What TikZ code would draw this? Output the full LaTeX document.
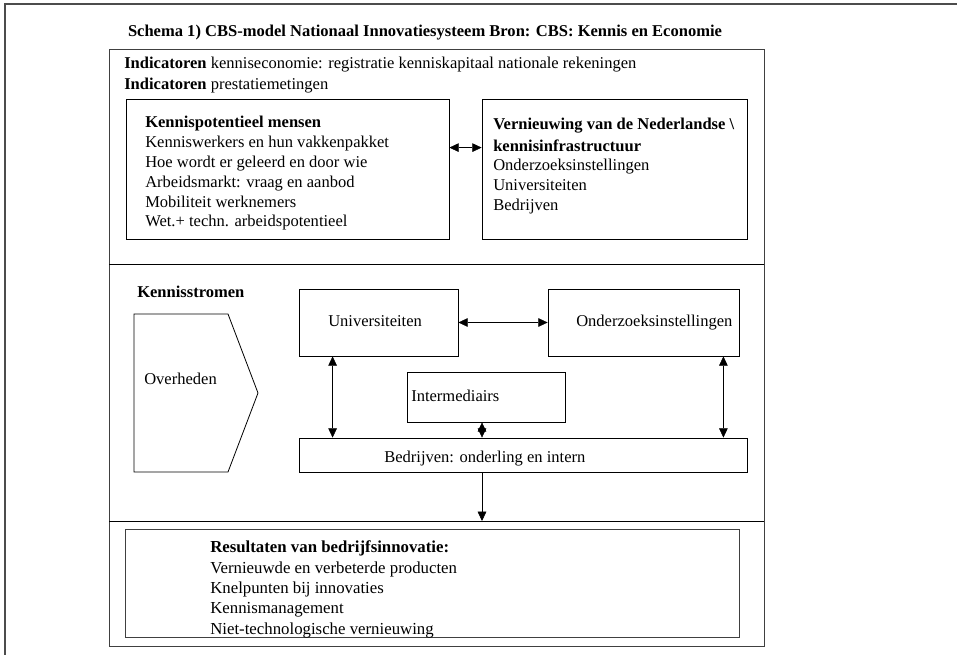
\documentclass[tikz,border=0pt]{standalone}
\usepackage{fontspec}
\setmainfont{Liberation Serif}
\usetikzlibrary{arrows.meta,fit,calc}
\tikzset{
	boxA/.style={draw, inner sep=0pt, line width=0.6pt},
	txtA/.style={anchor=base west, inner sep=0pt, font=\fontsize{12.4}{14}\selectfont},
	hdrA/.style={txtA, font=\fontsize{12.4}{14}\selectfont\bfseries},
	>={Triangle[length=7pt,width=6.5pt]},
}
\def\px{0.75pt}

\begin{document}
\begin{tikzpicture}[x=\px, y=-\px]
\useasboundingbox (0,0) rectangle (957,655);
\begin{scope}
\clip (0,0) rectangle (957,655);
\draw[line width=1.4pt, black!70] (5,4) rectangle (1000,700);
\end{scope}
\node[hdrA, anchor=base] (title) at (425,37) {Schema 1) CBS-model Nationaal Innovatiesysteem Bron: CBS: Kennis en Economie};
\node[boxA, draw=black!75, fit={(109,49) (764,646)}] (frame) {};
\coordinate (sepA) at (109,264);
\coordinate (sepB) at (109,521);
\draw[line width=0.7pt] (sepA) -- (sepA -| frame.east);
\draw[line width=0.7pt] (sepB) -- (sepB -| frame.east);
% indicatoren
\node[txtA] (ind-1) at (124,69) {\textbf{Indicatoren} kenniseconomie: registratie kenniskapitaal nationale rekeningen};
\node[txtA] (ind-2) at (124,90) {\textbf{Indicatoren} prestatiemetingen};
% kennispotentieel
\node[boxA, fit={(126,99) (449,239)}] (kpm) {};
\node[hdrA] (kpm-0) at (145,128) {Kennispotentieel mensen};
\foreach \t [count=\i] in {Kenniswerkers en hun vakkenpakket, Hoe wordt er geleerd en door wie,
	Arbeidsmarkt: vraag en aanbod, Mobiliteit werknemers, Wet.+ techn. arbeidspotentieel}
	\node[txtA] (kpm-\i) at (145,{128+19.8*\i}) {\t};
\node[boxA, fit={(482,99) (747,239)}] (vern) {};
\node[hdrA] (vern-0) at (493,130) {Vernieuwing van de Nederlandse \textbackslash};
\node[hdrA] (vern-00) at (493,152) {kennisinfrastructuur};
\foreach \t [count=\i] in {Onderzoeksinstellingen, Universiteiten, Bedrijven}
	\node[txtA] (vern-\i) at (493,{151+20*\i}) {\t};
\draw[<->] ([yshift=-49*\px]kpm.north east) -- ([yshift=-49*\px]kpm.north east -| vern.west);
% kennisstromen
\node[hdrA] (ks) at (137,298) {Kennisstromen};
\draw[line width=0.6pt] (134,314) -- (228,314) -- (258,393) -- (228,472) -- (134,472) -- cycle;
\node[txtA] (ovh) at (144,385) {Overheden};
\node[boxA, fit={(299,289) (458,356)}] (univ) {};
\node[txtA] (univ-t) at (328,327) {Universiteiten};
\node[boxA, fit={(548,289) (739,356)}] (ond) {};
\node[txtA] (ond-t) at (576,327) {Onderzoeksinstellingen};
\node[boxA, fit={(407,372) (565,422)}] (intm) {};
\node[txtA] (intm-t) at (411,402) {Intermediairs};
\node[boxA, fit={(299,438) (747,472)}] (bedr) {};
\node[txtA] (bedr-t) at (384,463) {Bedrijven: onderling en intern};
\draw[<->] (univ) -- (ond);
\draw[<->] ([xshift=34*\px]univ.south west) -- ([xshift=34*\px]univ.south west |- bedr.north);
\draw[<->] ([xshift=-16*\px]ond.south east) -- ([xshift=-16*\px]ond.south east |- bedr.north);
\draw[<->] ([xshift=-4*\px]intm.south) -- ([xshift=-4*\px]intm.south |- bedr.north);
\draw[->] ([xshift=-4*\px]intm.south |- bedr.south) -- ([xshift=-4*\px]intm.south |- sepB);
% resultaten
\node[boxA, draw=black!75, fit={(125,529) (739,637)}] (res) {};
\node[hdrA, font=\fontsize{12.6}{14}\selectfont\bfseries] (res-0) at (210,553) {Resultaten van bedrijfsinnovatie:};
\foreach \t [count=\i] in {Vernieuwde en verbeterde producten, Knelpunten bij innovaties,
	Kennismanagement, Niet-technologische vernieuwing}
	\node[txtA, font=\fontsize{12.6}{14}\selectfont] (res-\i) at (210,{553+20.25*\i}) {\t};
\end{tikzpicture}
\end{document}
